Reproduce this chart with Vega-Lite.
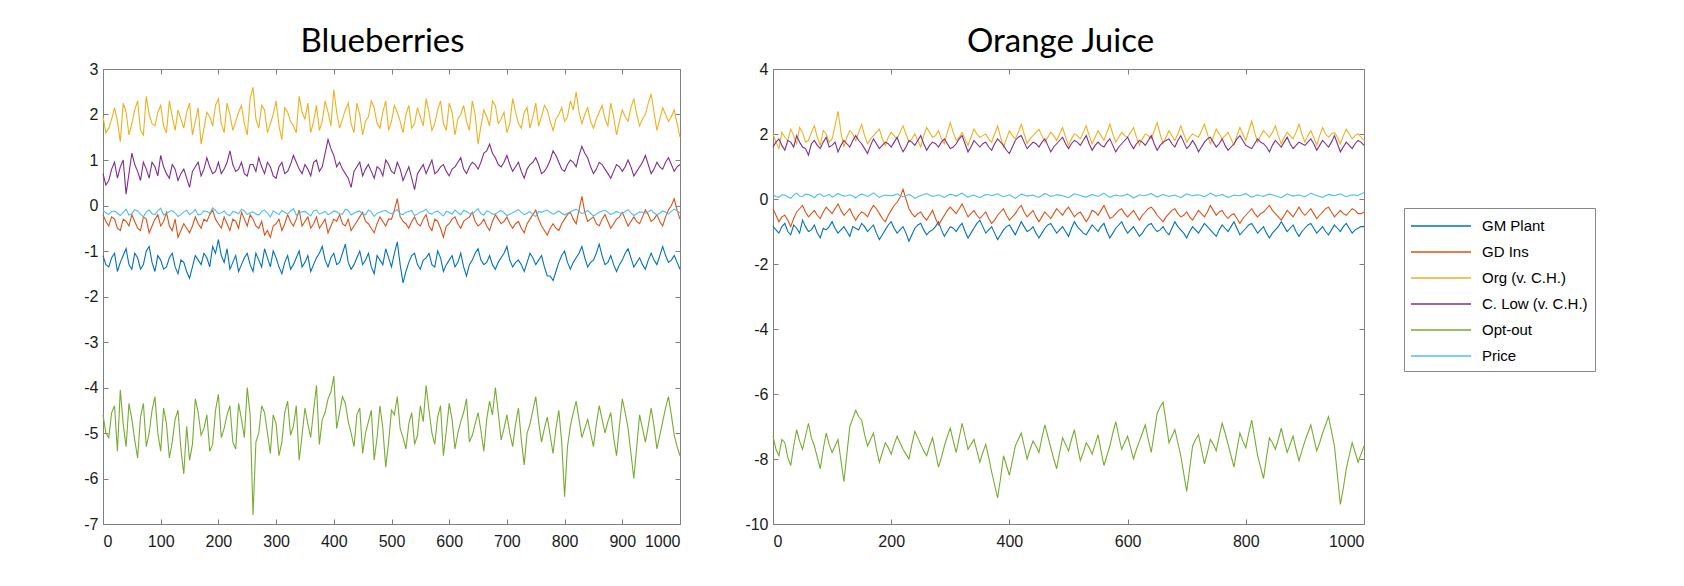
{
"$schema":"https://vega.github.io/schema/vega-lite/v6.json",
"background":"white",
"padding":{"left":83,"top":25,"right":5,"bottom":5},
"config":{"view":{"stroke":"#808080","strokeWidth":1},
"axis":{"grid":false,"domainColor":"#808080","tickColor":"#808080","tickSize":-5,"labelFont":"Liberation Sans","labelFontSize":16,"labelColor":"#1a1a1a","title":null,"labelPadding":10}},
"datasets":{
"bb":[
{"x":0,"g":-1.10,"d":-0.20,"o":1.95,"c":0.70,"p":-4.60,"r":-0.10},
{"x":10,"g":-1.35,"d":-0.45,"o":1.70,"c":0.55,"p":-5.10,"r":-0.20},
{"x":20,"g":-1.05,"d":-0.30,"o":2.15,"c":0.95,"p":-4.40,"r":-0.12},
{"x":30,"g":-1.25,"d":-0.55,"o":1.40,"c":0.85,"p":-4.05,"r":-0.22},
{"x":40,"g":-0.95,"d":-0.35,"o":2.05,"c":0.25,"p":-5.30,"r":-0.08},
{"x":50,"g":-1.40,"d":-0.20,"o":1.80,"c":1.15,"p":-4.70,"r":-0.18},
{"x":60,"g":-1.15,"d":-0.50,"o":2.30,"c":0.75,"p":-5.55,"r":-0.12},
{"x":70,"g":-1.30,"d":-0.25,"o":1.55,"c":0.95,"p":-4.35,"r":-0.25},
{"x":80,"g":-0.90,"d":-0.60,"o":2.00,"c":0.60,"p":-5.00,"r":-0.10},
{"x":90,"g":-1.45,"d":-0.30,"o":1.75,"c":0.85,"p":-4.20,"r":-0.20},
{"x":100,"g":-1.20,"d":-0.45,"o":2.20,"c":1.10,"p":-5.40,"r":-0.06},
{"x":110,"g":-1.35,"d":-0.15,"o":1.60,"c":0.70,"p":-4.80,"r":-0.17},
{"x":120,"g":-1.05,"d":-0.55,"o":1.95,"c":0.90,"p":-5.20,"r":-0.11},
{"x":130,"g":-1.50,"d":-0.70,"o":2.10,"c":0.55,"p":-4.50,"r":-0.24},
{"x":140,"g":-1.25,"d":-0.40,"o":1.70,"c":0.80,"p":-5.90,"r":-0.14},
{"x":150,"g":-1.60,"d":-0.60,"o":2.25,"c":0.40,"p":-5.60,"r":-0.20},
{"x":160,"g":-1.10,"d":-0.25,"o":1.85,"c":0.85,"p":-4.25,"r":-0.09},
{"x":170,"g":-1.30,"d":-0.50,"o":1.35,"c":0.65,"p":-5.05,"r":-0.19},
{"x":180,"g":-1.15,"d":-0.35,"o":2.05,"c":1.05,"p":-4.60,"r":-0.13},
{"x":190,"g":-0.90,"d":-0.10,"o":1.75,"c":0.70,"p":-5.25,"r":-0.05},
{"x":200,"g":-0.75,"d":-0.40,"o":2.35,"c":0.95,"p":-4.15,"r":-0.18},
{"x":210,"g":-1.25,"d":-0.25,"o":1.60,"c":0.80,"p":-4.90,"r":-0.12},
{"x":220,"g":-1.40,"d":-0.55,"o":2.00,"c":1.20,"p":-4.40,"r":-0.22},
{"x":230,"g":-1.10,"d":-0.35,"o":1.85,"c":0.75,"p":-5.35,"r":-0.15},
{"x":240,"g":-1.30,"d":-0.15,"o":2.20,"c":0.95,"p":-4.70,"r":-0.08},
{"x":250,"g":-1.05,"d":-0.45,"o":1.55,"c":0.65,"p":-4.00,"r":-0.20},
{"x":260,"g":-1.45,"d":-0.30,"o":2.60,"c":0.90,"p":-6.80,"r":-0.14},
{"x":270,"g":-1.20,"d":-0.50,"o":1.70,"c":1.05,"p":-5.00,"r":-0.21},
{"x":280,"g":-0.95,"d":-0.65,"o":2.10,"c":0.70,"p":-4.55,"r":-0.10},
{"x":290,"g":-1.35,"d":-0.70,"o":1.80,"c":0.85,"p":-5.45,"r":-0.25},
{"x":300,"g":-1.15,"d":-0.40,"o":2.30,"c":0.60,"p":-4.80,"r":-0.16},
{"x":310,"g":-1.50,"d":-0.55,"o":1.45,"c":0.95,"p":-5.20,"r":-0.11},
{"x":320,"g":-1.10,"d":-0.20,"o":2.05,"c":0.75,"p":-4.30,"r":-0.19},
{"x":330,"g":-1.30,"d":-0.45,"o":1.75,"c":1.10,"p":-4.85,"r":-0.07},
{"x":340,"g":-1.00,"d":-0.10,"o":2.40,"c":0.80,"p":-5.60,"r":-0.17},
{"x":350,"g":-1.25,"d":-0.35,"o":1.90,"c":0.90,"p":-4.45,"r":-0.13},
{"x":360,"g":-1.45,"d":-0.50,"o":1.60,"c":0.65,"p":-5.10,"r":-0.23},
{"x":370,"g":-1.15,"d":-0.25,"o":2.20,"c":1.00,"p":-3.95,"r":-0.10},
{"x":380,"g":-0.90,"d":-0.40,"o":1.85,"c":0.85,"p":-4.70,"r":-0.16},
{"x":390,"g":-1.35,"d":-0.60,"o":2.05,"c":1.45,"p":-4.25,"r":-0.20},
{"x":400,"g":-1.05,"d":-0.30,"o":2.55,"c":1.10,"p":-3.75,"r":-0.12},
{"x":410,"g":-1.25,"d":-0.20,"o":1.70,"c":0.95,"p":-4.55,"r":-0.18},
{"x":420,"g":-0.85,"d":-0.45,"o":2.10,"c":0.70,"p":-4.35,"r":-0.08},
{"x":430,"g":-1.40,"d":-0.55,"o":1.80,"c":0.40,"p":-5.00,"r":-0.21},
{"x":440,"g":-1.15,"d":-0.35,"o":2.25,"c":0.85,"p":-4.60,"r":-0.14},
{"x":450,"g":-1.30,"d":-0.15,"o":1.55,"c":0.65,"p":-5.45,"r":-0.19},
{"x":460,"g":-1.05,"d":-0.40,"o":1.95,"c":0.90,"p":-4.75,"r":-0.10},
{"x":470,"g":-1.50,"d":-0.60,"o":2.15,"c":0.60,"p":-5.60,"r":-0.24},
{"x":480,"g":-1.20,"d":-0.25,"o":1.70,"c":0.80,"p":-4.40,"r":-0.15},
{"x":490,"g":-0.95,"d":-0.45,"o":2.30,"c":1.00,"p":-5.75,"r":-0.11},
{"x":500,"g":-1.35,"d":-0.30,"o":1.85,"c":0.75,"p":-4.50,"r":-0.18},
{"x":510,"g":-0.80,"d":0.15,"o":2.05,"c":0.95,"p":-4.20,"r":-0.09},
{"x":520,"g":-1.70,"d":-0.35,"o":1.60,"c":0.55,"p":-5.10,"r":-0.20},
{"x":530,"g":-1.25,"d":-0.50,"o":2.20,"c":0.85,"p":-4.80,"r":-0.13},
{"x":540,"g":-1.05,"d":-0.25,"o":1.80,"c":0.35,"p":-5.25,"r":-0.22},
{"x":550,"g":-1.40,"d":-0.45,"o":1.95,"c":0.80,"p":-4.40,"r":-0.14},
{"x":560,"g":-1.15,"d":-0.20,"o":2.35,"c":0.70,"p":-3.95,"r":-0.08},
{"x":570,"g":-1.30,"d":-0.55,"o":1.65,"c":1.00,"p":-5.00,"r":-0.19},
{"x":580,"g":-1.00,"d":-0.35,"o":2.10,"c":0.75,"p":-4.65,"r":-0.12},
{"x":590,"g":-1.45,"d":-0.70,"o":1.80,"c":0.90,"p":-5.50,"r":-0.23},
{"x":600,"g":-1.20,"d":-0.40,"o":2.25,"c":0.65,"p":-4.35,"r":-0.15},
{"x":610,"g":-1.35,"d":-0.25,"o":1.55,"c":0.85,"p":-5.35,"r":-0.10},
{"x":620,"g":-1.05,"d":-0.50,"o":2.00,"c":1.05,"p":-4.75,"r":-0.20},
{"x":630,"g":-1.55,"d":-0.30,"o":1.85,"c":0.70,"p":-4.25,"r":-0.13},
{"x":640,"g":-1.20,"d":-0.15,"o":2.30,"c":0.95,"p":-5.05,"r":-0.18},
{"x":650,"g":-0.95,"d":-0.45,"o":1.35,"c":0.80,"p":-4.55,"r":-0.07},
{"x":660,"g":-1.30,"d":-0.30,"o":2.10,"c":1.15,"p":-5.40,"r":-0.21},
{"x":670,"g":-1.10,"d":-0.55,"o":1.75,"c":1.35,"p":-4.30,"r":-0.14},
{"x":680,"g":-1.40,"d":-0.20,"o":2.20,"c":1.05,"p":-4.00,"r":-0.19},
{"x":690,"g":-1.15,"d":-0.40,"o":1.90,"c":0.85,"p":-5.15,"r":-0.11},
{"x":700,"g":-0.90,"d":-0.25,"o":1.60,"c":1.10,"p":-4.60,"r":-0.22},
{"x":710,"g":-1.35,"d":-0.50,"o":2.35,"c":0.75,"p":-5.30,"r":-0.16},
{"x":720,"g":-1.20,"d":-0.35,"o":1.80,"c":0.95,"p":-4.45,"r":-0.09},
{"x":730,"g":-1.45,"d":-0.60,"o":2.05,"c":0.60,"p":-5.70,"r":-0.20},
{"x":740,"g":-1.05,"d":-0.30,"o":1.70,"c":0.90,"p":-4.80,"r":-0.13},
{"x":750,"g":-1.30,"d":-0.10,"o":2.25,"c":1.05,"p":-4.20,"r":-0.24},
{"x":760,"g":-1.10,"d":-0.45,"o":1.95,"c":0.70,"p":-5.20,"r":-0.15},
{"x":770,"g":-1.55,"d":-0.65,"o":2.10,"c":0.85,"p":-4.65,"r":-0.10},
{"x":780,"g":-1.65,"d":-0.40,"o":1.65,"c":1.20,"p":-5.45,"r":-0.19},
{"x":790,"g":-1.25,"d":-0.55,"o":2.00,"c":0.95,"p":-4.50,"r":-0.12},
{"x":800,"g":-1.00,"d":-0.30,"o":1.85,"c":0.75,"p":-6.40,"r":-0.21},
{"x":810,"g":-1.40,"d":-0.15,"o":2.30,"c":1.00,"p":-4.85,"r":-0.14},
{"x":820,"g":-1.15,"d":-0.40,"o":2.50,"c":0.85,"p":-4.30,"r":-0.08},
{"x":830,"g":-0.90,"d":0.20,"o":1.80,"c":1.30,"p":-5.10,"r":-0.18},
{"x":840,"g":-1.35,"d":-0.35,"o":2.15,"c":1.05,"p":-4.70,"r":-0.11},
{"x":850,"g":-1.20,"d":-0.25,"o":1.70,"c":0.70,"p":-5.30,"r":-0.23},
{"x":860,"g":-0.85,"d":-0.45,"o":2.05,"c":0.95,"p":-4.40,"r":-0.15},
{"x":870,"g":-1.30,"d":-0.20,"o":1.90,"c":0.80,"p":-5.00,"r":-0.10},
{"x":880,"g":-1.10,"d":-0.50,"o":2.25,"c":0.60,"p":-4.55,"r":-0.20},
{"x":890,"g":-1.45,"d":-0.30,"o":1.55,"c":0.90,"p":-5.50,"r":-0.13},
{"x":900,"g":-1.20,"d":-0.15,"o":2.10,"c":0.75,"p":-4.25,"r":-0.18},
{"x":910,"g":-0.95,"d":-0.45,"o":1.85,"c":1.00,"p":-4.90,"r":-0.09},
{"x":920,"g":-1.35,"d":-0.25,"o":2.35,"c":0.65,"p":-6.00,"r":-0.22},
{"x":930,"g":-1.15,"d":-0.40,"o":1.75,"c":0.85,"p":-4.60,"r":-0.14},
{"x":940,"g":-1.40,"d":-0.10,"o":2.00,"c":1.10,"p":-5.20,"r":-0.17},
{"x":950,"g":-1.05,"d":-0.35,"o":2.45,"c":0.70,"p":-4.45,"r":-0.10},
{"x":960,"g":-1.30,"d":-0.20,"o":1.65,"c":0.95,"p":-5.35,"r":-0.21},
{"x":970,"g":-0.90,"d":-0.45,"o":2.15,"c":0.80,"p":-4.75,"r":-0.12},
{"x":980,"g":-1.25,"d":-0.10,"o":1.85,"c":1.05,"p":-4.20,"r":-0.19},
{"x":990,"g":-1.10,"d":0.15,"o":2.10,"c":0.75,"p":-5.05,"r":-0.08},
{"x":1000,"g":-1.40,"d":-0.30,"o":1.50,"c":0.90,"p":-5.50,"r":-0.16},
{"x":5,"g":-1.30,"d":-0.35,"o":1.60,"c":0.45,"p":-5.00,"r":-0.16},
{"x":15,"g":-1.15,"d":-0.25,"o":1.90,"c":0.80,"p":-4.55,"r":-0.13},
{"x":25,"g":-1.45,"d":-0.50,"o":1.85,"c":0.60,"p":-5.40,"r":-0.17},
{"x":35,"g":-1.10,"d":-0.30,"o":2.25,"c":1.00,"p":-4.80,"r":-0.15},
{"x":45,"g":-1.30,"d":-0.45,"o":1.55,"c":0.70,"p":-4.35,"r":-0.21},
{"x":55,"g":-1.05,"d":-0.35,"o":2.10,"c":0.90,"p":-5.15,"r":-0.09},
{"x":65,"g":-1.40,"d":-0.55,"o":1.65,"c":0.55,"p":-4.65,"r":-0.19},
{"x":75,"g":-1.00,"d":-0.30,"o":2.40,"c":0.80,"p":-5.30,"r":-0.14},
{"x":85,"g":-1.25,"d":-0.45,"o":1.80,"c":0.95,"p":-4.50,"r":-0.18},
{"x":95,"g":-1.10,"d":-0.20,"o":2.05,"c":0.65,"p":-5.00,"r":-0.12},
{"x":105,"g":-1.40,"d":-0.35,"o":1.75,"c":0.85,"p":-4.45,"r":-0.21},
{"x":115,"g":-1.15,"d":-0.45,"o":2.30,"c":0.60,"p":-5.55,"r":-0.13},
{"x":125,"g":-1.35,"d":-0.30,"o":1.65,"c":0.80,"p":-4.70,"r":-0.16},
{"x":135,"g":-1.20,"d":-0.55,"o":1.90,"c":0.70,"p":-5.35,"r":-0.20},
{"x":145,"g":-1.45,"d":-0.50,"o":2.05,"c":0.60,"p":-4.85,"r":-0.11},
{"x":155,"g":-1.35,"d":-0.45,"o":1.55,"c":0.75,"p":-5.25,"r":-0.15},
{"x":165,"g":-1.20,"d":-0.40,"o":2.15,"c":0.95,"p":-4.55,"r":-0.21},
{"x":175,"g":-1.05,"d":-0.30,"o":1.70,"c":0.80,"p":-4.90,"r":-0.12},
{"x":185,"g":-1.35,"d":-0.20,"o":1.95,"c":0.85,"p":-5.40,"r":-0.17},
{"x":195,"g":-1.05,"d":-0.30,"o":2.20,"c":0.75,"p":-4.50,"r":-0.11},
{"x":205,"g":-1.10,"d":-0.50,"o":1.80,"c":0.70,"p":-5.10,"r":-0.16},
{"x":215,"g":-0.95,"d":-0.40,"o":2.25,"c":0.95,"p":-4.60,"r":-0.20},
{"x":225,"g":-1.25,"d":-0.30,"o":1.65,"c":0.90,"p":-5.20,"r":-0.13},
{"x":235,"g":-1.45,"d":-0.50,"o":2.05,"c":0.80,"p":-4.35,"r":-0.18},
{"x":245,"g":-1.15,"d":-0.30,"o":1.80,"c":0.70,"p":-5.10,"r":-0.12},
{"x":255,"g":-1.30,"d":-0.20,"o":2.35,"c":0.90,"p":-4.60,"r":-0.16},
{"x":265,"g":-1.05,"d":-0.45,"o":1.90,"c":0.75,"p":-5.20,"r":-0.19},
{"x":275,"g":-1.35,"d":-0.35,"o":2.20,"c":0.85,"p":-4.40,"r":-0.13},
{"x":285,"g":-1.15,"d":-0.55,"o":1.60,"c":0.95,"p":-5.00,"r":-0.17},
{"x":295,"g":-1.00,"d":-0.45,"o":2.00,"c":0.65,"p":-4.60,"r":-0.12},
{"x":305,"g":-1.35,"d":-0.30,"o":1.75,"c":0.85,"p":-5.50,"r":-0.20},
{"x":315,"g":-1.25,"d":-0.40,"o":2.15,"c":0.70,"p":-4.55,"r":-0.15},
{"x":325,"g":-1.40,"d":-0.35,"o":1.85,"c":0.90,"p":-5.05,"r":-0.12},
{"x":335,"g":-1.15,"d":-0.30,"o":1.60,"c":0.95,"p":-4.40,"r":-0.21},
{"x":345,"g":-1.35,"d":-0.45,"o":2.05,"c":0.70,"p":-5.05,"r":-0.14},
{"x":355,"g":-1.10,"d":-0.25,"o":2.25,"c":0.80,"p":-4.80,"r":-0.18},
{"x":365,"g":-1.30,"d":-0.40,"o":1.85,"c":0.95,"p":-4.50,"r":-0.12},
{"x":375,"g":-1.05,"d":-0.50,"o":1.65,"c":0.75,"p":-5.25,"r":-0.19},
{"x":385,"g":-1.20,"d":-0.30,"o":2.30,"c":1.15,"p":-4.55,"r":-0.13},
{"x":395,"g":-1.15,"d":-0.45,"o":1.75,"c":1.25,"p":-4.10,"r":-0.17},
{"x":405,"g":-1.30,"d":-0.35,"o":2.05,"c":0.85,"p":-4.90,"r":-0.14},
{"x":415,"g":-1.05,"d":-0.40,"o":1.90,"c":0.80,"p":-4.20,"r":-0.19},
{"x":425,"g":-1.25,"d":-0.30,"o":2.25,"c":0.60,"p":-4.75,"r":-0.11},
{"x":435,"g":-1.30,"d":-0.45,"o":1.60,"c":0.75,"p":-5.30,"r":-0.17},
{"x":445,"g":-1.00,"d":-0.25,"o":2.00,"c":0.95,"p":-4.45,"r":-0.12},
{"x":455,"g":-1.20,"d":-0.35,"o":1.85,"c":0.80,"p":-5.00,"r":-0.20},
{"x":465,"g":-1.35,"d":-0.50,"o":2.30,"c":0.75,"p":-4.50,"r":-0.14},
{"x":475,"g":-1.10,"d":-0.40,"o":1.80,"c":0.85,"p":-5.10,"r":-0.17},
{"x":485,"g":-1.30,"d":-0.35,"o":2.05,"c":0.65,"p":-4.90,"r":-0.12},
{"x":495,"g":-1.15,"d":-0.30,"o":1.65,"c":0.90,"p":-5.20,"r":-0.16},
{"x":505,"g":-1.05,"d":-0.10,"o":2.20,"c":0.70,"p":-4.60,"r":-0.14},
{"x":515,"g":-1.30,"d":-0.25,"o":1.85,"c":0.80,"p":-4.90,"r":-0.18},
{"x":525,"g":-1.45,"d":-0.40,"o":2.00,"c":0.70,"p":-5.35,"r":-0.15},
{"x":535,"g":-1.10,"d":-0.35,"o":1.70,"c":0.60,"p":-4.55,"r":-0.11},
{"x":545,"g":-1.30,"d":-0.40,"o":2.15,"c":0.70,"p":-5.05,"r":-0.19},
{"x":555,"g":-1.20,"d":-0.30,"o":1.75,"c":0.90,"p":-4.75,"r":-0.12},
{"x":565,"g":-1.05,"d":-0.45,"o":2.05,"c":0.85,"p":-4.50,"r":-0.17},
{"x":575,"g":-1.35,"d":-0.30,"o":1.80,"c":0.70,"p":-5.25,"r":-0.14},
{"x":585,"g":-1.15,"d":-0.50,"o":2.30,"c":0.85,"p":-4.40,"r":-0.18},
{"x":595,"g":-1.30,"d":-0.45,"o":1.65,"c":0.75,"p":-4.95,"r":-0.13},
{"x":605,"g":-1.10,"d":-0.30,"o":2.05,"c":0.80,"p":-4.70,"r":-0.19},
{"x":615,"g":-1.25,"d":-0.40,"o":1.90,"c":0.95,"p":-5.00,"r":-0.15},
{"x":625,"g":-1.35,"d":-0.35,"o":2.20,"c":0.80,"p":-4.55,"r":-0.11},
{"x":635,"g":-1.30,"d":-0.25,"o":1.65,"c":0.85,"p":-5.20,"r":-0.17},
{"x":645,"g":-1.05,"d":-0.35,"o":2.00,"c":0.90,"p":-4.80,"r":-0.13},
{"x":655,"g":-1.20,"d":-0.40,"o":1.75,"c":0.95,"p":-4.95,"r":-0.18},
{"x":665,"g":-1.25,"d":-0.45,"o":1.95,"c":1.20,"p":-4.70,"r":-0.12},
{"x":675,"g":-1.30,"d":-0.35,"o":2.30,"c":1.15,"p":-4.60,"r":-0.19},
{"x":685,"g":-1.25,"d":-0.30,"o":1.80,"c":0.90,"p":-4.55,"r":-0.14},
{"x":695,"g":-1.05,"d":-0.35,"o":2.05,"c":0.95,"p":-4.90,"r":-0.16},
{"x":705,"g":-1.20,"d":-0.40,"o":1.80,"c":0.90,"p":-5.00,"r":-0.19},
{"x":715,"g":-1.25,"d":-0.40,"o":2.05,"c":0.85,"p":-4.80,"r":-0.12},
{"x":725,"g":-1.30,"d":-0.50,"o":1.70,"c":0.75,"p":-5.15,"r":-0.15},
{"x":735,"g":-1.25,"d":-0.40,"o":2.15,"c":0.80,"p":-5.00,"r":-0.17},
{"x":745,"g":-1.15,"d":-0.20,"o":1.95,"c":0.95,"p":-4.50,"r":-0.20},
{"x":755,"g":-1.20,"d":-0.30,"o":1.75,"c":0.90,"p":-4.75,"r":-0.13},
{"x":765,"g":-1.35,"d":-0.55,"o":2.20,"c":0.75,"p":-4.90,"r":-0.12},
{"x":775,"g":-1.55,"d":-0.50,"o":1.85,"c":1.00,"p":-5.05,"r":-0.15},
{"x":785,"g":-1.45,"d":-0.50,"o":1.90,"c":1.10,"p":-4.90,"r":-0.16},
{"x":795,"g":-1.10,"d":-0.40,"o":2.15,"c":0.80,"p":-5.20,"r":-0.17},
{"x":805,"g":-1.25,"d":-0.20,"o":1.95,"c":0.90,"p":-5.30,"r":-0.17},
{"x":815,"g":-1.25,"d":-0.30,"o":2.10,"c":0.95,"p":-4.55,"r":-0.11},
{"x":825,"g":-1.05,"d":-0.10,"o":2.05,"c":1.10,"p":-4.70,"r":-0.13},
{"x":835,"g":-1.15,"d":-0.15,"o":2.00,"c":1.15,"p":-4.90,"r":-0.15},
{"x":845,"g":-1.25,"d":-0.30,"o":1.85,"c":0.85,"p":-5.00,"r":-0.17},
{"x":855,"g":-1.05,"d":-0.40,"o":1.90,"c":0.80,"p":-4.80,"r":-0.19},
{"x":865,"g":-1.10,"d":-0.30,"o":2.20,"c":0.90,"p":-4.70,"r":-0.12},
{"x":875,"g":-1.25,"d":-0.35,"o":1.75,"c":0.70,"p":-4.75,"r":-0.15},
{"x":885,"g":-1.30,"d":-0.40,"o":1.95,"c":0.75,"p":-5.10,"r":-0.17},
{"x":895,"g":-1.30,"d":-0.25,"o":1.85,"c":0.85,"p":-4.85,"r":-0.16},
{"x":905,"g":-1.05,"d":-0.30,"o":1.95,"c":0.85,"p":-4.55,"r":-0.13},
{"x":915,"g":-1.15,"d":-0.35,"o":2.15,"c":0.85,"p":-5.45,"r":-0.16},
{"x":925,"g":-1.25,"d":-0.35,"o":2.00,"c":0.75,"p":-5.30,"r":-0.18},
{"x":935,"g":-1.30,"d":-0.25,"o":1.90,"c":0.95,"p":-4.90,"r":-0.15},
{"x":945,"g":-1.20,"d":-0.20,"o":2.25,"c":0.90,"p":-4.85,"r":-0.14},
{"x":955,"g":-1.20,"d":-0.30,"o":2.05,"c":0.80,"p":-4.85,"r":-0.16},
{"x":965,"g":-1.10,"d":-0.35,"o":1.90,"c":0.85,"p":-5.05,"r":-0.17},
{"x":975,"g":-1.10,"d":-0.25,"o":2.00,"c":0.95,"p":-4.45,"r":-0.15},
{"x":985,"g":-1.20,"d":0.00,"o":1.95,"c":0.90,"p":-4.60,"r":-0.13},
{"x":995,"g":-1.25,"d":-0.10,"o":1.80,"c":0.85,"p":-5.30,"r":-0.12}
],
"oj":[
{"x":0,"g":-0.85,"d":-0.30,"o":2.00,"c":1.60,"p":-7.30,"r":0.15},
{"x":10,"g":-1.05,"d":-0.70,"o":1.55,"c":1.85,"p":-7.90,"r":0.05},
{"x":20,"g":-0.75,"d":-0.50,"o":1.90,"c":1.50,"p":-7.50,"r":0.12},
{"x":30,"g":-1.10,"d":-0.85,"o":2.15,"c":1.75,"p":-8.20,"r":0.02},
{"x":40,"g":-0.90,"d":-0.40,"o":1.70,"c":1.95,"p":-7.10,"r":0.18},
{"x":50,"g":-0.65,"d":-0.20,"o":2.05,"c":1.60,"p":-7.70,"r":0.08},
{"x":60,"g":-1.00,"d":-0.55,"o":1.80,"c":1.35,"p":-6.90,"r":0.14},
{"x":70,"g":-0.80,"d":-0.35,"o":2.25,"c":1.80,"p":-7.60,"r":0.04},
{"x":80,"g":-1.20,"d":-0.60,"o":1.65,"c":1.55,"p":-8.30,"r":0.16},
{"x":90,"g":-0.95,"d":-0.25,"o":2.00,"c":1.90,"p":-7.20,"r":0.10},
{"x":100,"g":-0.70,"d":-0.45,"o":1.85,"c":1.65,"p":-7.80,"r":0.06},
{"x":110,"g":-1.05,"d":-0.15,"o":2.70,"c":1.45,"p":-7.40,"r":0.17},
{"x":120,"g":-0.85,"d":-0.50,"o":1.60,"c":1.80,"p":-8.70,"r":0.09},
{"x":130,"g":-1.15,"d":-0.30,"o":2.10,"c":1.60,"p":-7.00,"r":0.13},
{"x":140,"g":-0.90,"d":-0.65,"o":1.80,"c":1.95,"p":-6.50,"r":0.03},
{"x":150,"g":-0.75,"d":-0.40,"o":2.30,"c":1.70,"p":-6.80,"r":0.15},
{"x":160,"g":-1.00,"d":-0.55,"o":1.70,"c":1.40,"p":-7.60,"r":0.08},
{"x":170,"g":-0.80,"d":-0.20,"o":1.95,"c":1.85,"p":-7.20,"r":0.19},
{"x":180,"g":-1.25,"d":-0.45,"o":2.15,"c":1.55,"p":-8.10,"r":0.05},
{"x":190,"g":-0.95,"d":-0.70,"o":1.65,"c":1.75,"p":-7.50,"r":0.12},
{"x":200,"g":-0.70,"d":-0.35,"o":2.05,"c":1.60,"p":-7.85,"r":0.10},
{"x":210,"g":-1.05,"d":-0.10,"o":1.85,"c":1.90,"p":-7.30,"r":0.16},
{"x":220,"g":-0.85,"d":0.30,"o":2.25,"c":1.45,"p":-7.70,"r":0.07},
{"x":230,"g":-1.30,"d":-0.30,"o":1.75,"c":1.80,"p":-8.00,"r":0.14},
{"x":240,"g":-0.90,"d":-0.55,"o":2.00,"c":1.65,"p":-7.15,"r":0.02},
{"x":250,"g":-0.75,"d":-0.40,"o":1.60,"c":1.95,"p":-7.55,"r":0.11},
{"x":260,"g":-1.10,"d":-0.65,"o":2.20,"c":1.50,"p":-7.90,"r":0.17},
{"x":270,"g":-0.95,"d":-0.35,"o":1.90,"c":1.75,"p":-7.35,"r":0.08},
{"x":280,"g":-0.70,"d":-0.80,"o":2.10,"c":1.60,"p":-8.25,"r":0.13},
{"x":290,"g":-1.15,"d":-0.50,"o":1.70,"c":1.85,"p":-7.60,"r":0.05},
{"x":300,"g":-0.85,"d":-0.25,"o":2.35,"c":1.55,"p":-7.05,"r":0.15},
{"x":310,"g":-1.00,"d":-0.45,"o":1.80,"c":1.70,"p":-7.80,"r":0.09},
{"x":320,"g":-0.75,"d":-0.15,"o":2.05,"c":1.95,"p":-6.90,"r":0.18},
{"x":330,"g":-1.20,"d":-0.55,"o":1.65,"c":1.45,"p":-7.70,"r":0.06},
{"x":340,"g":-0.90,"d":-0.35,"o":2.15,"c":1.80,"p":-7.40,"r":0.12},
{"x":350,"g":-0.65,"d":-0.60,"o":1.90,"c":1.60,"p":-8.10,"r":0.04},
{"x":360,"g":-1.05,"d":-0.40,"o":2.00,"c":1.75,"p":-7.55,"r":0.14},
{"x":370,"g":-0.85,"d":-0.75,"o":1.75,"c":1.50,"p":-8.40,"r":0.10},
{"x":380,"g":-1.25,"d":-0.50,"o":2.25,"c":1.85,"p":-9.20,"r":0.16},
{"x":390,"g":-0.95,"d":-0.30,"o":1.60,"c":1.65,"p":-7.90,"r":0.07},
{"x":400,"g":-0.80,"d":-0.65,"o":2.10,"c":1.40,"p":-8.50,"r":0.13},
{"x":410,"g":-1.10,"d":-0.45,"o":1.85,"c":1.80,"p":-7.60,"r":0.02},
{"x":420,"g":-0.70,"d":-0.20,"o":2.30,"c":1.95,"p":-7.20,"r":0.15},
{"x":430,"g":-1.00,"d":-0.55,"o":1.70,"c":1.55,"p":-8.00,"r":0.09},
{"x":440,"g":-0.85,"d":-0.35,"o":1.95,"c":1.75,"p":-7.45,"r":0.12},
{"x":450,"g":-1.20,"d":-0.70,"o":2.15,"c":1.60,"p":-7.80,"r":0.05},
{"x":460,"g":-0.90,"d":-0.40,"o":1.75,"c":1.85,"p":-6.95,"r":0.17},
{"x":470,"g":-0.75,"d":-0.60,"o":2.05,"c":1.45,"p":-7.65,"r":0.08},
{"x":480,"g":-1.05,"d":-0.30,"o":1.80,"c":1.70,"p":-8.30,"r":0.13},
{"x":490,"g":-0.85,"d":-0.50,"o":2.20,"c":1.90,"p":-7.35,"r":0.10},
{"x":500,"g":-1.15,"d":-0.25,"o":1.65,"c":1.55,"p":-7.75,"r":0.04},
{"x":510,"g":-0.70,"d":-0.55,"o":2.00,"c":1.80,"p":-7.10,"r":0.16},
{"x":520,"g":-0.95,"d":-0.40,"o":1.85,"c":1.65,"p":-8.05,"r":0.11},
{"x":530,"g":-1.10,"d":-0.70,"o":2.25,"c":1.95,"p":-7.50,"r":0.06},
{"x":540,"g":-0.80,"d":-0.35,"o":1.70,"c":1.50,"p":-7.85,"r":0.14},
{"x":550,"g":-1.00,"d":-0.50,"o":2.10,"c":1.75,"p":-7.25,"r":0.08},
{"x":560,"g":-0.75,"d":-0.20,"o":1.80,"c":1.60,"p":-8.20,"r":0.18},
{"x":570,"g":-1.20,"d":-0.60,"o":2.30,"c":1.85,"p":-7.60,"r":0.05},
{"x":580,"g":-0.90,"d":-0.45,"o":1.75,"c":1.45,"p":-6.85,"r":0.12},
{"x":590,"g":-0.70,"d":-0.30,"o":2.05,"c":1.70,"p":-7.70,"r":0.09},
{"x":600,"g":-1.05,"d":-0.55,"o":1.90,"c":1.90,"p":-7.30,"r":0.15},
{"x":610,"g":-0.85,"d":-0.35,"o":2.20,"c":1.55,"p":-8.00,"r":0.03},
{"x":620,"g":-1.15,"d":-0.65,"o":1.65,"c":1.80,"p":-7.45,"r":0.13},
{"x":630,"g":-0.90,"d":-0.40,"o":2.00,"c":1.65,"p":-6.95,"r":0.10},
{"x":640,"g":-0.75,"d":-0.25,"o":1.85,"c":1.95,"p":-7.80,"r":0.17},
{"x":650,"g":-1.00,"d":-0.50,"o":2.35,"c":1.50,"p":-6.60,"r":0.06},
{"x":660,"g":-0.85,"d":-0.70,"o":1.70,"c":1.75,"p":-6.25,"r":0.14},
{"x":670,"g":-1.10,"d":-0.45,"o":2.10,"c":1.85,"p":-7.50,"r":0.08},
{"x":680,"g":-0.70,"d":-0.30,"o":1.80,"c":1.60,"p":-7.10,"r":0.12},
{"x":690,"g":-0.95,"d":-0.55,"o":2.25,"c":1.95,"p":-7.90,"r":0.04},
{"x":700,"g":-1.20,"d":-0.40,"o":1.75,"c":1.55,"p":-9.00,"r":0.16},
{"x":710,"g":-0.85,"d":-0.65,"o":2.00,"c":1.80,"p":-7.60,"r":0.10},
{"x":720,"g":-1.05,"d":-0.35,"o":1.90,"c":1.45,"p":-7.25,"r":0.13},
{"x":730,"g":-0.75,"d":-0.55,"o":2.30,"c":1.75,"p":-8.15,"r":0.07},
{"x":740,"g":-0.95,"d":-0.20,"o":1.70,"c":1.90,"p":-7.40,"r":0.18},
{"x":750,"g":-1.15,"d":-0.50,"o":2.15,"c":1.60,"p":-7.75,"r":0.09},
{"x":760,"g":-0.80,"d":-0.35,"o":1.85,"c":1.85,"p":-6.90,"r":0.14},
{"x":770,"g":-1.00,"d":-0.60,"o":2.05,"c":1.50,"p":-7.55,"r":0.05},
{"x":780,"g":-0.70,"d":-0.45,"o":1.65,"c":1.70,"p":-8.25,"r":0.12},
{"x":790,"g":-1.10,"d":-0.75,"o":2.20,"c":1.95,"p":-7.20,"r":0.10},
{"x":800,"g":-0.90,"d":-0.50,"o":1.80,"c":1.65,"p":-7.65,"r":0.17},
{"x":810,"g":-0.75,"d":-0.30,"o":2.40,"c":1.55,"p":-6.80,"r":0.06},
{"x":820,"g":-1.05,"d":-0.55,"o":1.75,"c":1.85,"p":-7.90,"r":0.13},
{"x":830,"g":-0.85,"d":-0.40,"o":2.10,"c":1.70,"p":-8.60,"r":0.08},
{"x":840,"g":-1.20,"d":-0.20,"o":1.90,"c":1.45,"p":-7.35,"r":0.15},
{"x":850,"g":-0.95,"d":-0.45,"o":2.25,"c":1.80,"p":-7.70,"r":0.10},
{"x":860,"g":-0.70,"d":-0.65,"o":1.70,"c":1.60,"p":-7.05,"r":0.04},
{"x":870,"g":-1.00,"d":-0.35,"o":2.05,"c":1.90,"p":-7.80,"r":0.16},
{"x":880,"g":-0.80,"d":-0.55,"o":1.85,"c":1.55,"p":-7.30,"r":0.09},
{"x":890,"g":-1.15,"d":-0.25,"o":2.30,"c":1.75,"p":-8.05,"r":0.12},
{"x":900,"g":-0.90,"d":-0.50,"o":1.75,"c":1.65,"p":-7.45,"r":0.07},
{"x":910,"g":-0.75,"d":-0.30,"o":2.10,"c":1.85,"p":-6.95,"r":0.18},
{"x":920,"g":-1.05,"d":-0.60,"o":1.65,"c":1.50,"p":-7.75,"r":0.11},
{"x":930,"g":-0.85,"d":-0.40,"o":2.20,"c":1.80,"p":-7.20,"r":0.05},
{"x":940,"g":-1.10,"d":-0.25,"o":1.90,"c":1.60,"p":-6.70,"r":0.14},
{"x":950,"g":-0.80,"d":-0.55,"o":2.05,"c":1.95,"p":-7.60,"r":0.10},
{"x":960,"g":-1.00,"d":-0.35,"o":1.70,"c":1.45,"p":-9.40,"r":0.16},
{"x":970,"g":-0.75,"d":-0.50,"o":2.15,"c":1.75,"p":-8.30,"r":0.07},
{"x":980,"g":-1.05,"d":-0.30,"o":1.85,"c":1.55,"p":-7.50,"r":0.13},
{"x":990,"g":-0.90,"d":-0.45,"o":2.00,"c":1.80,"p":-8.10,"r":0.11},
{"x":1000,"g":-0.85,"d":-0.40,"o":1.80,"c":1.65,"p":-7.60,"r":0.20},
{"x":5,"g":-0.95,"d":-0.50,"o":1.75,"c":1.75,"p":-7.70,"r":0.08},
{"x":15,"g":-0.85,"d":-0.55,"o":2.05,"c":1.65,"p":-7.40,"r":0.13},
{"x":25,"g":-1.00,"d":-0.65,"o":1.80,"c":1.80,"p":-7.95,"r":0.07},
{"x":35,"g":-0.80,"d":-0.60,"o":1.95,"c":1.60,"p":-7.60,"r":0.12},
{"x":45,"g":-1.05,"d":-0.30,"o":2.20,"c":1.75,"p":-7.45,"r":0.09},
{"x":55,"g":-0.85,"d":-0.40,"o":1.75,"c":1.55,"p":-7.30,"r":0.15},
{"x":65,"g":-0.95,"d":-0.45,"o":2.05,"c":1.70,"p":-7.35,"r":0.10},
{"x":75,"g":-1.05,"d":-0.50,"o":1.90,"c":1.65,"p":-7.95,"r":0.13},
{"x":85,"g":-0.90,"d":-0.40,"o":2.10,"c":1.75,"p":-7.70,"r":0.08},
{"x":95,"g":-0.85,"d":-0.35,"o":1.75,"c":1.60,"p":-7.55,"r":0.14},
{"x":105,"g":-0.90,"d":-0.30,"o":2.25,"c":1.75,"p":-7.60,"r":0.11},
{"x":115,"g":-0.95,"d":-0.35,"o":2.05,"c":1.65,"p":-8.05,"r":0.12},
{"x":125,"g":-1.00,"d":-0.40,"o":1.90,"c":1.70,"p":-7.85,"r":0.10},
{"x":135,"g":-0.85,"d":-0.50,"o":2.00,"c":1.80,"p":-6.75,"r":0.09},
{"x":145,"g":-0.95,"d":-0.50,"o":2.05,"c":1.80,"p":-6.70,"r":0.11},
{"x":155,"g":-0.85,"d":-0.45,"o":1.95,"c":1.55,"p":-7.25,"r":0.12},
{"x":165,"g":-0.90,"d":-0.35,"o":1.85,"c":1.65,"p":-7.40,"r":0.13},
{"x":175,"g":-1.05,"d":-0.30,"o":2.05,"c":1.70,"p":-7.70,"r":0.11},
{"x":185,"g":-1.10,"d":-0.60,"o":1.85,"c":1.65,"p":-7.80,"r":0.09},
{"x":195,"g":-0.80,"d":-0.50,"o":1.90,"c":1.70,"p":-7.65,"r":0.11},
{"x":205,"g":-0.90,"d":-0.20,"o":1.95,"c":1.75,"p":-7.55,"r":0.12},
{"x":215,"g":-0.95,"d":0.05,"o":2.05,"c":1.65,"p":-7.50,"r":0.11},
{"x":225,"g":-1.05,"d":0.00,"o":2.00,"c":1.60,"p":-7.85,"r":0.10},
{"x":235,"g":-1.10,"d":-0.45,"o":1.85,"c":1.75,"p":-7.55,"r":0.09},
{"x":245,"g":-0.80,"d":-0.45,"o":1.80,"c":1.80,"p":-7.35,"r":0.07},
{"x":255,"g":-0.95,"d":-0.55,"o":1.95,"c":1.70,"p":-7.75,"r":0.14},
{"x":265,"g":-1.00,"d":-0.50,"o":2.05,"c":1.65,"p":-7.60,"r":0.12},
{"x":275,"g":-0.85,"d":-0.60,"o":1.95,"c":1.70,"p":-7.80,"r":0.10},
{"x":285,"g":-0.95,"d":-0.65,"o":1.85,"c":1.75,"p":-7.95,"r":0.09},
{"x":295,"g":-1.00,"d":-0.35,"o":2.05,"c":1.70,"p":-7.30,"r":0.11},
{"x":305,"g":-0.90,"d":-0.35,"o":2.05,"c":1.60,"p":-7.45,"r":0.12},
{"x":315,"g":-0.85,"d":-0.30,"o":1.90,"c":1.85,"p":-7.35,"r":0.14},
{"x":325,"g":-1.00,"d":-0.35,"o":1.85,"c":1.70,"p":-7.30,"r":0.11},
{"x":335,"g":-1.05,"d":-0.45,"o":1.90,"c":1.60,"p":-7.55,"r":0.09},
{"x":345,"g":-0.75,"d":-0.50,"o":2.00,"c":1.70,"p":-7.75,"r":0.08},
{"x":355,"g":-0.85,"d":-0.50,"o":1.95,"c":1.70,"p":-7.80,"r":0.09},
{"x":365,"g":-0.95,"d":-0.60,"o":1.85,"c":1.60,"p":-7.95,"r":0.13},
{"x":375,"g":-1.05,"d":-0.65,"o":2.00,"c":1.70,"p":-8.80,"r":0.13},
{"x":385,"g":-1.10,"d":-0.40,"o":1.90,"c":1.75,"p":-8.60,"r":0.11},
{"x":395,"g":-0.85,"d":-0.50,"o":1.85,"c":1.50,"p":-8.20,"r":0.10},
{"x":405,"g":-0.95,"d":-0.55,"o":1.95,"c":1.60,"p":-8.05,"r":0.08},
{"x":415,"g":-0.90,"d":-0.30,"o":2.05,"c":1.90,"p":-7.40,"r":0.09},
{"x":425,"g":-0.85,"d":-0.40,"o":2.00,"c":1.75,"p":-7.60,"r":0.12},
{"x":435,"g":-0.95,"d":-0.45,"o":1.85,"c":1.65,"p":-7.70,"r":0.11},
{"x":445,"g":-1.05,"d":-0.55,"o":2.05,"c":1.70,"p":-7.60,"r":0.08},
{"x":455,"g":-1.05,"d":-0.55,"o":1.95,"c":1.75,"p":-7.35,"r":0.11},
{"x":465,"g":-0.80,"d":-0.50,"o":1.90,"c":1.65,"p":-7.30,"r":0.13},
{"x":475,"g":-0.90,"d":-0.45,"o":1.95,"c":1.60,"p":-8.00,"r":0.10},
{"x":485,"g":-0.95,"d":-0.40,"o":2.00,"c":1.80,"p":-7.80,"r":0.12},
{"x":495,"g":-1.00,"d":-0.35,"o":1.90,"c":1.70,"p":-7.55,"r":0.07},
{"x":505,"g":-0.90,"d":-0.40,"o":1.85,"c":1.70,"p":-7.40,"r":0.10},
{"x":515,"g":-0.85,"d":-0.45,"o":1.95,"c":1.75,"p":-7.60,"r":0.14},
{"x":525,"g":-1.05,"d":-0.55,"o":2.05,"c":1.80,"p":-7.80,"r":0.08},
{"x":535,"g":-0.95,"d":-0.55,"o":1.95,"c":1.70,"p":-7.65,"r":0.10},
{"x":545,"g":-0.90,"d":-0.40,"o":1.90,"c":1.65,"p":-7.55,"r":0.11},
{"x":555,"g":-0.85,"d":-0.35,"o":1.95,"c":1.65,"p":-7.75,"r":0.13},
{"x":565,"g":-1.00,"d":-0.40,"o":2.05,"c":1.75,"p":-7.90,"r":0.11},
{"x":575,"g":-1.05,"d":-0.55,"o":2.00,"c":1.65,"p":-7.20,"r":0.09},
{"x":585,"g":-0.80,"d":-0.35,"o":1.90,"c":1.60,"p":-7.30,"r":0.10},
{"x":595,"g":-0.90,"d":-0.45,"o":1.95,"c":1.80,"p":-7.50,"r":0.12},
{"x":605,"g":-0.95,"d":-0.45,"o":2.05,"c":1.70,"p":-7.65,"r":0.09},
{"x":615,"g":-1.00,"d":-0.50,"o":1.90,"c":1.70,"p":-7.70,"r":0.08},
{"x":625,"g":-1.05,"d":-0.50,"o":1.85,"c":1.75,"p":-7.20,"r":0.11},
{"x":635,"g":-0.80,"d":-0.30,"o":1.95,"c":1.80,"p":-7.40,"r":0.14},
{"x":645,"g":-0.90,"d":-0.35,"o":2.10,"c":1.70,"p":-7.20,"r":0.11},
{"x":655,"g":-0.95,"d":-0.60,"o":2.00,"c":1.65,"p":-6.40,"r":0.10},
{"x":665,"g":-1.00,"d":-0.55,"o":1.90,"c":1.80,"p":-6.85,"r":0.11},
{"x":675,"g":-0.90,"d":-0.35,"o":1.95,"c":1.70,"p":-7.30,"r":0.10},
{"x":685,"g":-0.85,"d":-0.45,"o":2.00,"c":1.80,"p":-7.50,"r":0.08},
{"x":695,"g":-1.05,"d":-0.50,"o":2.00,"c":1.75,"p":-8.45,"r":0.10},
{"x":705,"g":-1.00,"d":-0.55,"o":1.90,"c":1.65,"p":-8.30,"r":0.13},
{"x":715,"g":-0.95,"d":-0.50,"o":1.95,"c":1.65,"p":-7.40,"r":0.12},
{"x":725,"g":-0.90,"d":-0.45,"o":2.10,"c":1.60,"p":-7.70,"r":0.10},
{"x":735,"g":-0.85,"d":-0.40,"o":2.00,"c":1.85,"p":-7.80,"r":0.12},
{"x":745,"g":-1.05,"d":-0.35,"o":1.90,"c":1.75,"p":-7.55,"r":0.13},
{"x":755,"g":-0.95,"d":-0.40,"o":2.00,"c":1.70,"p":-7.30,"r":0.11},
{"x":765,"g":-0.90,"d":-0.50,"o":1.95,"c":1.65,"p":-7.20,"r":0.09},
{"x":775,"g":-0.85,"d":-0.50,"o":1.85,"c":1.60,"p":-7.90,"r":0.08},
{"x":785,"g":-0.90,"d":-0.60,"o":1.95,"c":1.85,"p":-7.70,"r":0.11},
{"x":795,"g":-1.00,"d":-0.60,"o":2.00,"c":1.80,"p":-7.45,"r":0.13},
{"x":805,"g":-0.80,"d":-0.40,"o":2.10,"c":1.60,"p":-7.20,"r":0.11},
{"x":815,"g":-0.90,"d":-0.45,"o":2.05,"c":1.70,"p":-7.35,"r":0.09},
{"x":825,"g":-0.95,"d":-0.45,"o":1.95,"c":1.75,"p":-8.25,"r":0.10},
{"x":835,"g":-1.05,"d":-0.30,"o":2.00,"c":1.60,"p":-7.95,"r":0.12},
{"x":845,"g":-1.05,"d":-0.35,"o":2.05,"c":1.65,"p":-7.50,"r":0.13},
{"x":855,"g":-0.85,"d":-0.55,"o":1.95,"c":1.70,"p":-7.40,"r":0.07},
{"x":865,"g":-0.85,"d":-0.50,"o":1.90,"c":1.75,"p":-7.45,"r":0.10},
{"x":875,"g":-0.90,"d":-0.45,"o":1.95,"c":1.70,"p":-7.55,"r":0.12},
{"x":885,"g":-1.00,"d":-0.40,"o":2.05,"c":1.65,"p":-7.70,"r":0.11},
{"x":895,"g":-1.00,"d":-0.40,"o":2.00,"c":1.70,"p":-7.75,"r":0.09},
{"x":905,"g":-0.80,"d":-0.40,"o":1.95,"c":1.75,"p":-7.20,"r":0.12},
{"x":915,"g":-0.90,"d":-0.45,"o":1.90,"c":1.70,"p":-7.35,"r":0.14},
{"x":925,"g":-0.95,"d":-0.50,"o":1.95,"c":1.65,"p":-7.50,"r":0.08},
{"x":935,"g":-1.00,"d":-0.30,"o":2.00,"c":1.70,"p":-6.95,"r":0.10},
{"x":945,"g":-0.95,"d":-0.40,"o":2.00,"c":1.75,"p":-7.15,"r":0.12},
{"x":955,"g":-0.90,"d":-0.45,"o":1.90,"c":1.70,"p":-8.50,"r":0.13},
{"x":965,"g":-0.85,"d":-0.45,"o":1.95,"c":1.60,"p":-8.90,"r":0.11},
{"x":975,"g":-0.90,"d":-0.40,"o":2.00,"c":1.65,"p":-7.90,"r":0.10},
{"x":985,"g":-0.95,"d":-0.35,"o":1.95,"c":1.70,"p":-7.80,"r":0.12},
{"x":995,"g":-0.85,"d":-0.45,"o":1.90,"c":1.75,"p":-7.85,"r":0.15}
]},
"hconcat":[
{"width":577,"height":455,
"title":{"text":"Blueberries","font":"Lato","fontSize":33,"fontWeight":"normal","color":"black","offset":2,"dx":-9},
"data":{"name":"bb"},
"transform":[{"fold":["g","d","o","c","p","r"],"as":["k","y"]}],
"layer":[
{"mark":{"type":"line","strokeWidth":1.1},
"encoding":{
"x":{"field":"x","type":"quantitative","scale":{"domain":[0,1000],"nice":false,"zero":false},"axis":{"values":[0,100,200,300,400,500,600,700,800,900,1000],"labelExpr":"''+datum.value","labelPadding":14}},
"y":{"field":"y","type":"quantitative","scale":{"domain":[-7,3],"nice":false,"zero":false},"axis":{"values":[-7,-6,-5,-4,-3,-2,-1,0,1,2,3],"labelExpr":"''+datum.value"}},
"color":{"field":"k","type":"nominal","scale":{"domain":["g","d","o","c","p","r"],"range":["#0072BD","#D95319","#EDB120","#7E2F8E","#77AC30","#4DBEEE"]},
"legend":{"orient":"none","legendX":1301,"legendY":139,"title":null,"symbolType":"M-3,0H3","symbolSize":400,"symbolStrokeWidth":1.5,"symbolOffset":19,"labelOffset":30,"labelFont":"Liberation Sans","labelFontSize":15,"labelColor":"black","strokeColor":"#888888","fillColor":"white","padding":7,"rowPadding":7,
"labelExpr":"datum.label=='g'?'GM Plant':datum.label=='d'?'GD Ins':datum.label=='o'?'Org (v. C.H.)':datum.label=='c'?'C. Low (v. C.H.)':datum.label=='p'?'Opt-out':'Price'"}}}},
{"mark":{"type":"line","opacity":0},
"encoding":{
"x":{"field":"x","type":"quantitative","axis":{"orient":"top","labels":false,"domain":false,"values":[0,100,200,300,400,500,600,700,800,900,1000]}},
"y":{"field":"y","type":"quantitative","axis":{"orient":"right","labels":false,"domain":false,"values":[-7,-6,-5,-4,-3,-2,-1,0,1,2,3]}}}}
],
"resolve":{"axis":{"x":"independent","y":"independent"}}},
{"width":591,"height":455,
"title":{"text":"Orange Juice","font":"Lato","fontSize":33,"fontWeight":"normal","color":"black","offset":2,"dx":-8},
"data":{"name":"oj"},
"transform":[{"fold":["g","d","o","c","p","r"],"as":["k","y"]}],
"layer":[
{"mark":{"type":"line","strokeWidth":1.1},
"encoding":{
"x":{"field":"x","type":"quantitative","scale":{"domain":[0,1000],"nice":false,"zero":false},"axis":{"values":[0,200,400,600,800,1000],"labelExpr":"''+datum.value","labelPadding":14}},
"y":{"field":"y","type":"quantitative","scale":{"domain":[-10,4],"nice":false,"zero":false},"axis":{"values":[-10,-8,-6,-4,-2,0,2,4],"labelExpr":"''+datum.value"}},
"color":{"field":"k","type":"nominal","scale":{"domain":["g","d","o","c","p","r"],"range":["#0072BD","#D95319","#EDB120","#7E2F8E","#77AC30","#4DBEEE"]},
"legend":{"orient":"none","legendX":1301,"legendY":139,"title":null,"symbolType":"M-3,0H3","symbolSize":400,"symbolStrokeWidth":1.5,"symbolOffset":19,"labelOffset":30,"labelFont":"Liberation Sans","labelFontSize":15,"labelColor":"black","strokeColor":"#888888","fillColor":"white","padding":7,"rowPadding":7,
"labelExpr":"datum.label=='g'?'GM Plant':datum.label=='d'?'GD Ins':datum.label=='o'?'Org (v. C.H.)':datum.label=='c'?'C. Low (v. C.H.)':datum.label=='p'?'Opt-out':'Price'"}}}},
{"mark":{"type":"line","opacity":0},
"encoding":{
"x":{"field":"x","type":"quantitative","axis":{"orient":"top","labels":false,"domain":false,"values":[0,200,400,600,800,1000]}},
"y":{"field":"y","type":"quantitative","axis":{"orient":"right","labels":false,"domain":false,"values":[-10,-8,-6,-4,-2,0,2,4]}}}}
],
"resolve":{"axis":{"x":"independent","y":"independent"}}}
],
"spacing":93,
"bounds":"flush"
}
